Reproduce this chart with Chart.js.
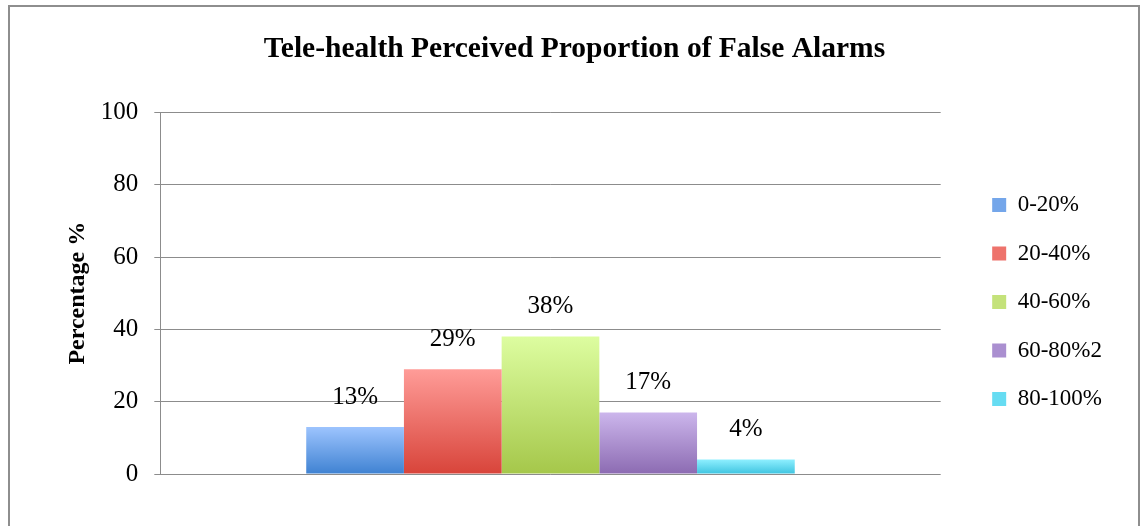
<!DOCTYPE html>
<html>
<head>
<meta charset="utf-8">
<script src="https://cdn.jsdelivr.net/npm/chart.js@4/dist/chart.umd.min.js"></script>
<style>
  html, body { margin: 0; padding: 0; background: #fff; }
  #wrap { position: relative; width: 1140px; height: 526px; overflow: hidden; }
  #frame { position: absolute; left: 8px; top: 5px; width: 1128px; height: 540px; border: 2px solid #8e8e8e; }
  canvas { position: absolute; left: 0; top: 0; }
</style>
</head>
<body>
<div id="wrap">
  <div id="frame"></div>
  <canvas id="chart" width="1140" height="526"></canvas>
</div>
<script>
var categories = ['0-20%', '20-40%', '40-60%', '60-80%2', '80-100%'];
var values = [13, 29, 38, 17, 4];
var yTicks = [0, 20, 40, 60, 80, 100];

// top / bottom colours of each bar's vertical gradient
var topColors = ['#9dc4fe', '#ff9c98', '#ddfda0', '#ccb6ec', '#8eefff'];
var bottomColors = ['#3f82d2', '#d8443a', '#a5c74a', '#8c6bb2', '#3ec4e0'];
var midColors = ['#74a6ea', '#ee736c', '#c4e27a', '#aa8fd0', '#66dcf2'];

function barGradient(context) {
  var chart = context.chart;
  var i = context.datasetIndex;
  if (!chart.chartArea || context.dataIndex === undefined) return midColors[i];
  var y = chart.scales.y;
  var top = y.getPixelForValue(values[i]);
  var base = y.getPixelForValue(0);
  var g = chart.ctx.createLinearGradient(0, top, 0, base);
  g.addColorStop(0, topColors[i]);
  g.addColorStop(1, bottomColors[i]);
  return g;
}

var datasets = categories.map(function (c, i) {
  return {
    label: c,
    data: [values[i]],
    backgroundColor: barGradient,
    borderWidth: 0,
    categoryPercentage: 0.626,
    barPercentage: 1
  };
});

// value labels above every bar
var valueLabels = {
  id: 'valueLabels',
  afterDatasetsDraw: function (chart) {
    var ctx = chart.ctx;
    ctx.save();
    ctx.font = '25px "Liberation Serif"';
    ctx.fillStyle = '#000';
    ctx.textAlign = 'center';
    ctx.textBaseline = 'middle';
    chart.data.datasets.forEach(function (ds, i) {
      var bar = chart.getDatasetMeta(i).data[0];
      ctx.fillText(ds.data[0] + '%', bar.x, bar.y - 30);
    });
    ctx.restore();
  }
};

// the legend column sits further right and lower than chart.js puts it
var legendShift = {
  id: 'legendShift',
  beforeInit: function (chart) {
    var draw = chart.legend.draw;
    chart.legend.draw = function () {
      var ctx = chart.ctx;
      ctx.save();
      ctx.translate(26, 65);
      draw.apply(this, arguments);
      ctx.restore();
    };
  }
};

new Chart(document.getElementById('chart'), {
  type: 'bar',
  data: { labels: [''], datasets: datasets },
  plugins: [valueLabels, legendShift],
  options: {
    responsive: false,
    animation: false,
    layout: { padding: { left: 63, right: 54, top: 0, bottom: 52 } },
    plugins: {
      title: {
        display: true,
        text: 'Tele-health Perceived Proportion of False Alarms',
        color: '#000',
        font: { family: '"Liberation Serif"', size: 29.5, weight: 'bold' },
        padding: { top: 32, bottom: 45 }
      },
      legend: {
        position: 'right',
        labels: {
          color: '#000',
          font: { family: '"Liberation Serif"', size: 23 },
          boxWidth: 14,
          boxHeight: 14,
          padding: 25.5,
          generateLabels: function (chart) {
            return chart.data.datasets.map(function (ds, i) {
              return { text: ds.label, fillStyle: midColors[i], strokeStyle: midColors[i], lineWidth: 0, datasetIndex: i };
            });
          }
        }
      },
      tooltip: { enabled: false }
    },
    scales: {
      x: { display: false },
      y: {
        min: 0,
        max: 100,
        afterBuildTicks: function (axis) {
          axis.ticks = yTicks.map(function (v) { return { value: v }; });
        },
        ticks: {
          color: '#000',
          padding: 16,
          font: { family: '"Liberation Serif"', size: 25 }
        },
        grid: { color: '#8c8c8c', lineWidth: 1, tickLength: 6 },
        border: { color: '#8c8c8c', width: 1 },
        title: {
          display: true,
          text: 'Percentage %',
          color: '#000',
          padding: { top: 0, bottom: -7 },
          font: { family: '"Liberation Serif"', size: 24, weight: 'bold' }
        }
      }
    }
  }
});
</script>
</body>
</html>
